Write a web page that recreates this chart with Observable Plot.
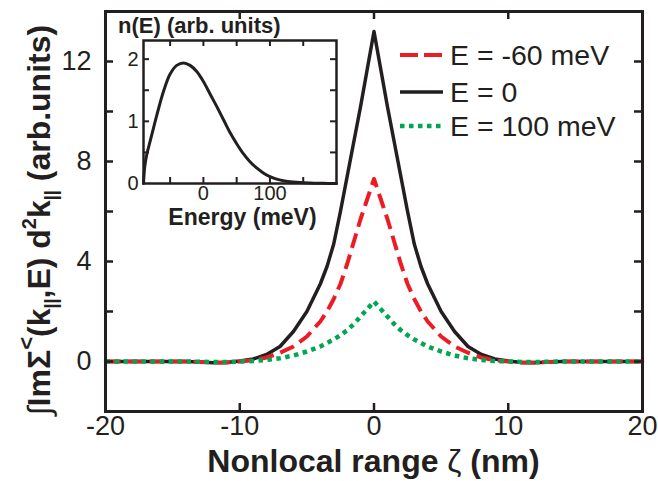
<!DOCTYPE html>
<html>
<head>
<meta charset="utf-8">
<script src="https://cdn.jsdelivr.net/npm/d3@7"></script>
<script src="https://cdn.jsdelivr.net/npm/@observablehq/plot@0.6"></script>
<style>
  html, body { margin: 0; padding: 0; background: white; }
  #wrap { position: relative; width: 658px; height: 481px; overflow: hidden; }
  #wrap svg { display: block; overflow: visible; }
  #inset { position: absolute; left: 110px; top: 0px; }
</style>
</head>
<body>
<div id="wrap"><div id="main"></div><div id="inset"></div></div>
<script>
// ---- data ----
const zeta = [-20,-16,-14,-13,-12,-11,-10,-9,-8,-7,-6,-5,-4,-3.5,-3,-2.5,-2,-1.5,-1,-0.5,0,0.5,1,1.5,2,2.5,3,3.5,4,5,6,7,8,9,10,11,12,13,14,16,20];
const seriesNames = ["E = -60 meV", "E = 0", "E = 100 meV"];
const valuesEm60 = [0,0,0,-0.02,-0.04,-0.04,0.0,0.05,0.16,0.35,0.6,1.0,1.6,2.0,2.5,3.1,3.9,4.8,5.7,6.5,7.3,6.5,5.7,4.8,3.9,3.1,2.5,2.0,1.6,1.0,0.6,0.35,0.16,0.05,0.0,-0.04,-0.04,-0.02,0,0,0];
const valuesE0 = [0,0,0,-0.02,-0.05,-0.04,0.02,0.1,0.28,0.6,1.2,2.0,3.1,3.8,4.7,6.0,7.4,8.8,10.2,11.7,13.2,11.7,10.2,8.8,7.4,6.0,4.7,3.8,3.1,2.0,1.2,0.6,0.28,0.1,0.02,-0.04,-0.05,-0.02,0,0,0];
const valuesE100 = [0,0,0,-0.01,-0.02,-0.02,0.0,0.02,0.06,0.13,0.24,0.4,0.6,0.74,0.88,1.05,1.25,1.5,1.8,2.1,2.4,2.1,1.8,1.5,1.25,1.05,0.88,0.74,0.6,0.4,0.24,0.13,0.06,0.02,0.0,-0.02,-0.02,-0.01,0,0,0];
const xTickLabels = [-20, -10, 0, 10, 20];
const xTickMarks = [-10, 0, 10];
const yTickLabels = [0, 4, 8, 12];
const yTickMarks = [0, 2, 4, 6, 8, 10, 12];

// inset: n(E)
const energy = [-90,-88,-85,-80,-75,-70,-60,-50,-40,-30,-20,-10,0,10,20,30,40,50,60,70,80,90,100,110,120,130,140,160,180,200];
const occupancy = [0,0.28,0.47,0.68,0.89,1.1,1.48,1.76,1.9,1.94,1.9,1.8,1.64,1.44,1.24,1.03,0.82,0.64,0.48,0.35,0.25,0.17,0.11,0.07,0.045,0.03,0.02,0.008,0.003,0];
const insetXTickLabels = [0, 100];
const insetXTickMarks = [-50, 0, 50, 100, 150];
const insetYTickLabels = [0, 1, 2];
const insetYTickMarks = [0.5, 1, 1.5, 2];

// ---- build ----
const ink = "#231f20";
const colors = {"E = -60 meV": "#ed1c24", "E = 0": ink, "E = 100 meV": "#00a651"};
const rows = [];
[valuesEm60, valuesE0, valuesE100].forEach((arr, k) => {
  arr.forEach((v, i) => rows.push({series: seriesNames[k], z: zeta[i], v}));
});
const inset = energy.map((e, i) => ({e, n: occupancy[i]}));
const font = "'Liberation Sans', Arial, Helvetica, sans-serif";

const W = 658, H = 481, mL = 105, mR = 16, mT = 11, mB = 70;
const fw = W - mL - mR, fh = H - mT - mB;
const tk = 8;

const main = Plot.plot({
  width: W, height: H, marginLeft: mL, marginRight: mR, marginTop: mT, marginBottom: mB,
  x: {domain: [-20, 20]},
  y: {domain: [-2, 14]},
  style: {fontFamily: font, fontSize: "27px", color: ink, background: "white", overflow: "visible"},
  marks: [
    Plot.line(rows.filter(d => d.series === "E = 0"), {x: "z", y: "v", stroke: colors["E = 0"], strokeWidth: 3.5}),
    Plot.line(rows.filter(d => d.series === "E = -60 meV"), {x: "z", y: "v", stroke: colors["E = -60 meV"], strokeWidth: 4, strokeDasharray: "15,7", strokeLinecap: "butt"}),
    Plot.line(rows.filter(d => d.series === "E = 100 meV"), {x: "z", y: "v", stroke: colors["E = 100 meV"], strokeWidth: 4.5, strokeDasharray: "4.5,4.5", strokeLinecap: "butt"}),
    Plot.frame({stroke: ink, strokeWidth: 3}),
    Plot.tickX(xTickMarks, {x: d => d, insetTop: fh - tk, stroke: ink, strokeWidth: 2.5}),
    Plot.tickX(xTickMarks, {x: d => d, insetBottom: fh - tk, stroke: ink, strokeWidth: 2.5}),
    Plot.tickY(yTickMarks, {y: d => d, insetRight: fw - tk, stroke: ink, strokeWidth: 2.5}),
    Plot.tickY(yTickMarks, {y: d => d, insetLeft: fw - tk, stroke: ink, strokeWidth: 2.5}),
    Plot.axisX({ticks: xTickLabels, tickSize: 0, tickPadding: 4, label: null, tickFormat: d => String(d)}),
    Plot.axisY({ticks: yTickLabels, tickSize: 0, tickPadding: 14, label: null, tickFormat: d => String(d)})
  ]
});
document.getElementById("main").appendChild(main);

const svg = d3.select(main);
// x-axis title
const xt = svg.append("text")
  .attr("x", mL + fw / 2).attr("y", 472)
  .attr("text-anchor", "middle")
  .attr("font-size", 32).attr("font-weight", "bold").attr("fill", ink);
xt.append("tspan").text("Nonlocal range ");
xt.append("tspan").attr("font-weight", "normal").text("ζ");
xt.append("tspan").text(" (nm)");

// y-axis title
const yt = svg.append("text")
  .attr("transform", "translate(50, 220) rotate(-90)")
  .attr("text-anchor", "middle")
  .attr("font-size", 32).attr("font-weight", "bold").attr("fill", ink);
yt.append("tspan").attr("font-weight", "normal").text("∫");
yt.append("tspan").text("ImΣ");
yt.append("tspan").attr("font-size", 22).attr("dy", -16).text("<");
yt.append("tspan").attr("dy", 16).text("(k");
yt.append("tspan").attr("font-size", 18).attr("dy", 7).text("||");
yt.append("tspan").attr("dy", -7).text(",E) d");
yt.append("tspan").attr("font-size", 20).attr("dy", -14).text("2");
yt.append("tspan").attr("dy", 14).text("k");
yt.append("tspan").attr("font-size", 18).attr("dy", 7).text("||");
yt.append("tspan").attr("dy", -7).text(" (arb.units)");

// legend
const legendRows = [
  {name: "E = -60 meV", y: 55, dash: "18,6", w: 4},
  {name: "E = 0", y: 92, dash: null, w: 3.5},
  {name: "E = 100 meV", y: 126, dash: "4.5,4.5", w: 4.5}
];
const lg = svg.append("g");
legendRows.forEach(r => {
  lg.append("line").attr("x1", 400).attr("x2", 443).attr("y1", r.y).attr("y2", r.y)
    .attr("stroke", colors[r.name]).attr("stroke-width", r.w)
    .attr("stroke-dasharray", r.dash);
  lg.append("text").attr("x", 450).attr("y", r.y).attr("dy", "0.36em")
    .attr("text-anchor", "start")
    .attr("font-size", 28.5).attr("fill", ink).text(r.name);
});

// ---- inset ----
const iW = 235, iH = 235, imL = 33, imR = 9, imT = 40, imB = 52;
const ifw = iW - imL - imR, ifh = iH - imT - imB;
const itk = 6;
const insetPlot = Plot.plot({
  width: iW, height: iH, marginLeft: imL, marginRight: imR, marginTop: imT, marginBottom: imB,
  x: {domain: [-90, 200]},
  y: {domain: [0, 2.3]},
  style: {fontFamily: font, fontSize: "20px", color: ink, background: "transparent", overflow: "visible"},
  marks: [
    Plot.line(inset, {x: "e", y: "n", stroke: ink, strokeWidth: 3, curve: "catmull-rom"}),
    Plot.frame({stroke: ink, strokeWidth: 2.5}),
    Plot.tickX(insetXTickMarks, {x: d => d, insetTop: ifh - itk, stroke: ink, strokeWidth: 2}),
    Plot.tickX(insetXTickMarks, {x: d => d, insetBottom: ifh - itk, stroke: ink, strokeWidth: 2}),
    Plot.tickY(insetYTickMarks, {y: d => d, insetRight: ifw - itk, stroke: ink, strokeWidth: 2}),
    Plot.tickY(insetYTickMarks, {y: d => d, insetLeft: ifw - itk, stroke: ink, strokeWidth: 2}),
    Plot.axisX({ticks: insetXTickLabels, tickSize: 0, tickPadding: 2, label: null, tickFormat: d => String(d)}),
    Plot.axisY({ticks: insetYTickLabels, tickSize: 0, tickPadding: 5, label: null, tickFormat: d => String(d)})
  ]
});
document.getElementById("inset").appendChild(insetPlot);
const isvg = d3.select(insetPlot);
isvg.insert("rect", ":first-child").attr("x", imL).attr("y", imT).attr("width", ifw).attr("height", ifh).attr("fill", "white");
isvg.append("text").attr("x", 8).attr("y", 33).attr("text-anchor", "start")
  .attr("font-size", 22).attr("font-weight", "bold").attr("fill", ink).text("n(E) (arb. units)");
isvg.append("text").attr("x", imL + ifw / 2 + 3).attr("y", 225).attr("text-anchor", "middle")
  .attr("font-size", 23).attr("font-weight", "bold").attr("fill", ink).text("Energy (meV)");
</script>
</body>
</html>
